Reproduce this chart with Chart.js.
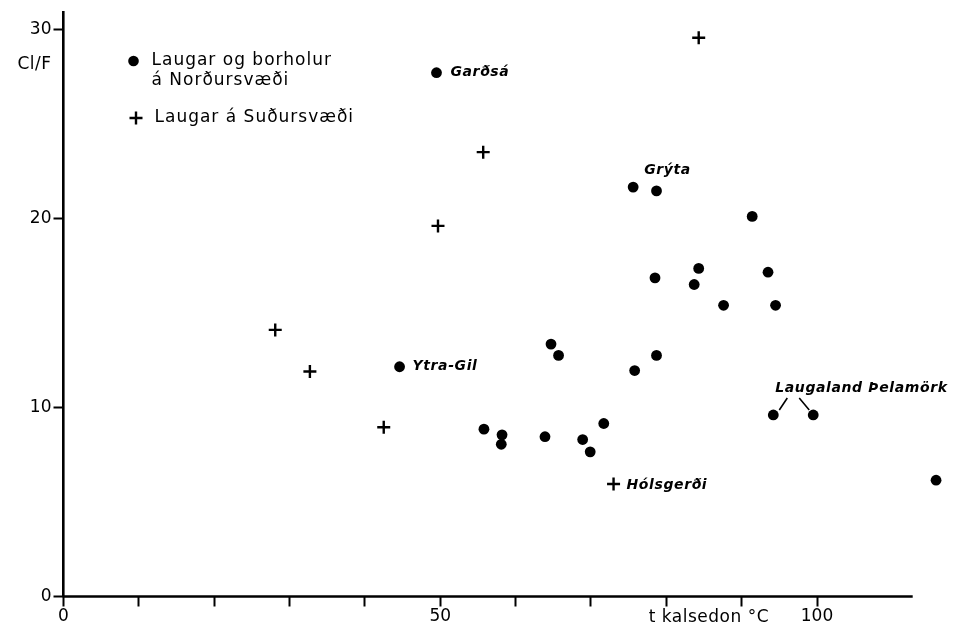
<!DOCTYPE html>
<html>
<head>
<meta charset="utf-8">
<script src="https://cdn.jsdelivr.net/npm/chart.js@4/dist/chart.umd.min.js"></script>
<style>
  html, body { margin: 0; padding: 0; background: #ffffff; }
  #wrap { width: 954px; height: 628px; }
</style>
</head>
<body>
<div id="wrap"><canvas id="chart" width="954" height="628"></canvas></div>
<script>
// Hot springs and boreholes in the northern area (filled dots): chalcedony temperature vs Cl/F
const northTemp  = [49.5, 44.6, 75.6, 78.7, 91.4, 78.5, 84.3, 83.7, 93.5, 87.6, 94.5, 64.7, 65.7,
                    75.8, 78.7, 94.2, 99.5, 115.8, 55.8, 58.2, 58.1, 63.9, 68.9, 69.9, 71.7];
const northRatio = [27.7, 12.15, 21.65, 21.45, 20.1, 16.85, 17.35, 16.5, 17.15, 15.4, 15.4, 13.35, 12.75,
                    11.95, 12.75, 9.6, 9.6, 6.15, 8.85, 8.55, 8.05, 8.45, 8.3, 7.65, 9.15];

// Hot springs in the southern area (crosses)
const southTemp  = [84.3, 55.7, 49.7, 28.1, 32.7, 42.5, 73.0];
const southRatio = [29.55, 23.5, 19.6, 14.1, 11.9, 8.95, 5.95];

// Axis ticks and labels
const xTickValues  = [0, 10, 20, 30, 40, 50, 60, 70, 80, 90, 100];
const xLabelValues = [0, 50, 100];
const yTickValues  = [0, 10, 20, 30];
const xRangeMax = 117;     // plotting range, leaves room for the hottest spring
const xAxisLineEnd = 112.7; // where the drawn x-axis line stops
const yAxisMax = 30.9;

const yTitle = 'Cl/F';
const xTitle = 't kalsedon °C';
const legendNorth = ['Laugar og borholur', 'á Norðursvæði'];
const legendSouth = 'Laugar á Suðursvæði';

// Place-name notes: text, series (0 north, 1 south), point index
const noteText   = ['Garðsá', 'Grýta', 'Ytra-Gil', 'Hólsgerði', 'Laugaland Þelamörk'];
const noteSeries = [0, 0, 0, 1, 0];
const noteIndex  = [0, 2, 1, 6, 15];
// pixel offsets of each note from its point
const noteStyle = [
  { dx: 14, dy: 0 }, { dx: 11, dy: -17 }, { dx: 13, dy: 0 }, { dx: 13, dy: 1 }, { dx: 2, dy: -27 }
];
// leader lines from the Laugaland Þelamörk note to its two points (point indexes)
const leaderIndex = [15, 16];

const FONT = '"DejaVu Sans", sans-serif';
Chart.defaults.font.family = FONT;
Chart.defaults.color = '#000';

function toXY(xs, ys) { return xs.map((x, i) => ({ x: x, y: ys[i] })); }

// x-axis line that stops short of the plotting range
const xAxisLine = {
  id: 'xAxisLine',
  beforeDatasetsDraw(chart) {
    const ctx = chart.ctx;
    const xs = chart.scales.x, ys = chart.scales.y;
    const y0 = ys.getPixelForValue(0);
    ctx.save();
    ctx.strokeStyle = '#000';
    ctx.lineWidth = 2.6;
    ctx.beginPath();
    ctx.moveTo(xs.getPixelForValue(0) - 1.3, y0);
    ctx.lineTo(xs.getPixelForValue(xAxisLineEnd), y0);
    ctx.stroke();
    ctx.restore();
  }
};

const decorations = {
  id: 'decorations',
  afterDatasetsDraw(chart) {
    const ctx = chart.ctx;
    const xs = chart.scales.x, ys = chart.scales.y;
    const metas = [chart.getDatasetMeta(0), chart.getDatasetMeta(1)];
    ctx.save();
    ctx.fillStyle = '#000';
    ctx.strokeStyle = '#000';

    // axis titles
    ctx.font = '17px ' + FONT;
    ctx.letterSpacing = '0.5px';
    ctx.textAlign = 'right';
    ctx.textBaseline = 'middle';
    ctx.fillText(yTitle, ys.right - 12, ys.getPixelForValue(30) + 35);
    ctx.textBaseline = 'alphabetic';
    ctx.fillText(xTitle, xs.getPixelForValue(100) - 48, xs.top + 25);

    // legend
    const lx = chart.chartArea.left;
    ctx.textAlign = 'left';
    ctx.textBaseline = 'middle';
    ctx.letterSpacing = '1px';
    ctx.beginPath();
    ctx.arc(lx + 70, 61, 5.3, 0, Math.PI * 2);
    ctx.fill();
    ctx.fillText(legendNorth[0], lx + 88, 61);
    ctx.fillText(legendNorth[1], lx + 88, 81);
    ctx.lineWidth = 2.4;
    ctx.beginPath();
    ctx.moveTo(lx + 66, 118); ctx.lineTo(lx + 79, 118);
    ctx.moveTo(lx + 72.5, 111.5); ctx.lineTo(lx + 72.5, 124.5);
    ctx.stroke();
    ctx.fillText(legendSouth, lx + 91, 118);

    // place-name notes
    ctx.font = 'italic bold 14px ' + FONT;
    ctx.letterSpacing = '0.6px';
    noteText.forEach((t, i) => {
      const el = metas[noteSeries[i]].data[noteIndex[i]];
      ctx.fillText(t, el.x + noteStyle[i].dx, el.y + noteStyle[i].dy);
    });

    // leader lines
    ctx.lineWidth = 1.6;
    const a = metas[0].data[leaderIndex[0]], b = metas[0].data[leaderIndex[1]];
    ctx.beginPath();
    ctx.moveTo(a.x + 6, a.y - 5); ctx.lineTo(a.x + 14, a.y - 17);
    ctx.moveTo(b.x - 14, b.y - 17); ctx.lineTo(b.x - 4, b.y - 5);
    ctx.stroke();
    ctx.restore();
  }
};

new Chart(document.getElementById('chart'), {
  type: 'scatter',
  data: {
    datasets: [
      {
        label: legendNorth.join(' '),
        data: toXY(northTemp, northRatio),
        pointStyle: 'circle',
        pointRadius: 5.4,
        backgroundColor: '#000',
        borderColor: '#000',
        borderWidth: 0,
        clip: false
      },
      {
        label: legendSouth,
        data: toXY(southTemp, southRatio),
        pointStyle: 'cross',
        pointRadius: 6.5,
        borderColor: '#000',
        borderWidth: 2.4,
        clip: false
      }
    ]
  },
  options: {
    responsive: false,
    animation: false,
    layout: { padding: { top: 12, right: 8.3, left: 0, bottom: 0 } },
    plugins: { legend: { display: false }, tooltip: { enabled: false } },
    scales: {
      x: {
        type: 'linear',
        min: 0,
        max: xRangeMax,
        afterBuildTicks: s => { s.ticks = xTickValues.map(v => ({ value: v })); },
        afterFit: s => { s.height = 31.5; },
        ticks: {
          autoSkip: false,
          maxRotation: 0,
          padding: 0,
          font: { size: 17 },
          color: '#000',
          callback: v => xLabelValues.includes(v) ? String(v) : ''
        },
        grid: { drawOnChartArea: false, drawTicks: true, tickLength: 10, tickWidth: 2, tickColor: '#000', color: '#000' },
        border: { display: false }
      },
      y: {
        type: 'linear',
        min: 0,
        max: yAxisMax,
        afterBuildTicks: s => { s.ticks = yTickValues.map(v => ({ value: v })); },
        afterFit: s => { s.width = 63.5; },
        ticks: {
          autoSkip: false,
          padding: 2,
          font: { size: 17 },
          color: '#000',
          callback: v => String(v)
        },
        grid: { drawOnChartArea: false, drawTicks: true, tickLength: 10, tickWidth: 2, tickColor: '#000', color: '#000' },
        border: { display: true, color: '#000', width: 2.6 }
      }
    }
  },
  plugins: [xAxisLine, decorations]
});
</script>
</body>
</html>
